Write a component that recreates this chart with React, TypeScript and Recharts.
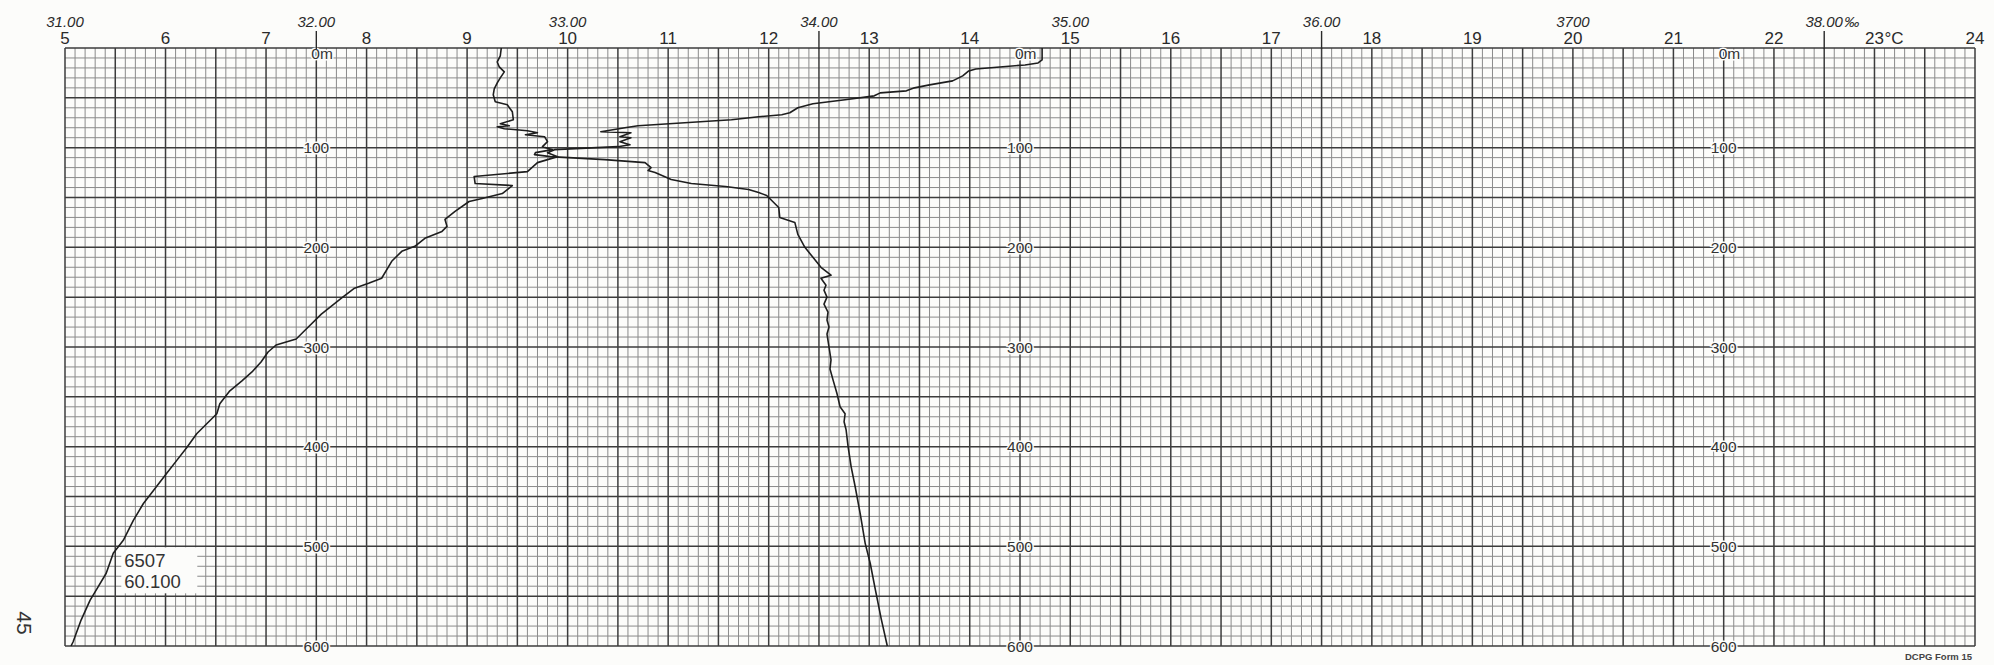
import React from "react";
import { ScatterChart, Scatter, XAxis, YAxis, ReferenceLine } from "recharts";

// ---------- data ----------
// Temperature profile (°C) vs depth (m)
const tempDepth = [
  0, 12, 15, 17, 19, 21, 23, 28, 33, 37, 40, 43, 45, 48, 52, 56, 60, 65, 67, 69, 72, 78, 80, 84, 85, 89, 90, 94, 97,
  99, 102, 105, 109, 115, 124, 129, 136, 138, 146, 151, 154, 164, 172, 179, 184, 191, 199, 204, 214, 231, 236, 241,
  251, 267, 284, 292, 298, 305, 315, 325, 334, 344, 357, 367, 374, 387, 401, 414, 427, 444, 457, 474, 494, 507, 527,
  544, 554, 574, 596, 600,
];
const tempValues = [
  14.72, 14.72, 14.68, 14.55, 14.3, 14.06, 13.99, 13.93, 13.83, 13.6, 13.45, 13.37, 13.11, 13.05, 12.76, 12.44,
  12.29, 12.21, 12.13, 11.9, 11.63, 10.7, 10.57, 10.33, 10.63, 10.52, 10.63, 10.52, 10.62, 10.5, 9.87, 9.8, 9.9,
  9.7, 9.6, 9.07, 9.08, 9.45, 9.35, 9.15, 9.02, 8.88, 8.78, 8.8, 8.75, 8.58, 8.48, 8.35, 8.25, 8.15, 8.02, 7.88,
  7.75, 7.55, 7.38, 7.3, 7.1, 7.02, 6.95, 6.86, 6.76, 6.64, 6.54, 6.51, 6.44, 6.31, 6.21, 6.11, 6.01, 5.88, 5.78,
  5.68, 5.58, 5.48, 5.41, 5.31, 5.25, 5.16, 5.08, 5.06,
];

// Salinity profile (‰) vs depth (m)
const salDepth = [
  0, 8, 14, 19, 24, 30, 35, 41, 47, 54, 57, 64, 72, 76, 78, 79, 81, 83, 85, 87, 89, 94, 99, 102, 105, 107, 109, 112,
  115, 120, 123, 125, 132, 136, 139, 142, 145, 148, 155, 160, 170, 175, 187, 200, 210, 220, 228, 231, 238, 243, 250,
  257, 265, 273, 280, 287, 300, 313, 322, 333, 347, 360, 367, 375, 383, 400, 420, 440, 467, 497, 517, 543, 573, 600,
];
const salValues = [
  32.736, 32.732, 32.72, 32.728, 32.748, 32.732, 32.72, 32.708, 32.704, 32.712, 32.76, 32.78, 32.784, 32.732, 32.768,
  32.72, 32.748, 32.84, 32.88, 32.832, 32.908, 32.92, 32.9, 32.94, 32.872, 32.868, 32.932, 33.148, 33.308, 33.332,
  33.32, 33.348, 33.412, 33.492, 33.628, 33.72, 33.76, 33.792, 33.82, 33.84, 33.844, 33.904, 33.916, 33.944, 33.976,
  34.008, 34.048, 34.008, 34.028, 34.02, 34.032, 34.02, 34.036, 34.032, 34.04, 34.032, 34.04, 34.048, 34.044, 34.056,
  34.072, 34.084, 34.104, 34.1, 34.108, 34.116, 34.128, 34.144, 34.164, 34.184, 34.204, 34.224, 34.248, 34.272,
];

// Axis ticks / labels
const tempTicks = [5, 6, 7, 8, 9, 10, 11, 12, 13, 14, 15, 16, 17, 18, 19, 20, 21, 22, 23, 24];
const tempTickSuffix: Record<number, string> = { 23: "°C" };
const salTicks = [31, 32, 33, 34, 35, 36, 37, 38];
const salTickLabels = ["31.00", "32.00", "33.00", "34.00", "35.00", "36.00", "3700", "38.00"];
const salTickSuffix = ["", "", "", "", "", "", "", "‰"];
const salTickMark = [false, true, false, true, false, true, false, true];
const depthLabelColumns = [7.5, 14.5, 21.5];
const depthLabelValues = [0, 100, 200, 300, 400, 500, 600];
const depthLabelTexts = ["0m", "100", "200", "300", "400", "500", "600"];
const stationLines = ["6507", "60.100"];
const stationAnchor = { t: 5.56, d: 501 };

// grid definitions
const tempMin = 5;
const tempMax = 24;
const depthMax = 600;
const salMin = 31;
const salMax = 31 + (tempMax - tempMin) / 2.5;

// ---------- derived tables ----------
const tempData = tempDepth.map((d, i) => ({ d, t: tempValues[i] }));
const salData = salDepth.map((d, i) => ({ d, s: salValues[i] }));
const depthLabelData = depthLabelColumns.flatMap((t) =>
  depthLabelValues.map((d, i) => ({ t, d, text: depthLabelTexts[i] }))
);
const stationData = [{ ...stationAnchor, lines: stationLines }];

const vGrid: { v: number; major: boolean }[] = [];
for (let i = 0; i <= (tempMax - tempMin) * 10; i++) {
  vGrid.push({ v: Math.round(tempMin * 10 + i) / 10, major: i % 5 === 0 });
}
const hGrid: { v: number; major: boolean }[] = [];
for (let d = 0; d <= depthMax; d += 10) {
  hGrid.push({ v: d, major: d % 50 === 0 });
}

// ---------- styles ----------
const W = 1994;
const H = 665;
const PAPER = "#fcfcfa";
const INK = "#2a2a2a";
const FONT = "'Liberation Sans', 'DejaVu Sans', Arial, sans-serif";

const TempTick = (props: any) => {
  const { x, y, payload } = props;
  const v = payload.value as number;
  const suffix = tempTickSuffix[v];
  return (
    <g>
      <text x={x} y={y} textAnchor="middle" fontSize={17} fontFamily={FONT} fill={INK}>
        {String(v)}
      </text>
      {suffix ? (
        <text x={x + 10} y={y} textAnchor="start" fontSize={17} fontFamily={FONT} fill={INK}>
          {suffix}
        </text>
      ) : null}
    </g>
  );
};

const SalTick = (props: any) => {
  const { x, y, index } = props;
  const label = salTickLabels[index];
  const suffix = salTickSuffix[index];
  return (
    <g>
      {salTickMark[index] ? <line x1={x} x2={x} y1={y + 4} y2={y + 22} stroke={INK} strokeWidth={1.4} /> : null}
      <text x={x} y={y} textAnchor="middle" fontSize={15} fontStyle="italic" fontFamily={FONT} fill={INK}>
        {label}
      </text>
      {suffix ? (
        <text x={x + 20} y={y} textAnchor="start" fontSize={15} fontStyle="italic" fontFamily={FONT} fill={INK}>
          {suffix}
        </text>
      ) : null}
    </g>
  );
};

const EmptyShape = () => <g />;

const DepthLabel = (p: any) => {
  const { cx, cy, payload } = p;
  const isZero = payload.d === 0;
  return (
    <text
      x={isZero ? cx - 5 : cx}
      y={isZero ? cy + 5 : cy}
      dy="0.36em"
      textAnchor={isZero ? "start" : "middle"}
      fontSize={15.5}
      fontFamily={FONT}
      fill="#333"
      stroke={PAPER}
      strokeWidth={3}
      paintOrder="stroke"
    >
      {payload.text}
    </text>
  );
};

const StationBox = (p: any) => {
  const { cx, cy, payload } = p;
  return (
    <g>
      <rect x={cx} y={cy} width={76} height={46} fill={PAPER} />
      {payload.lines.map((l: string, i: number) => (
        <text key={i} x={cx + 3} y={cy + 20 + i * 21} fontSize={18.5} fontFamily={FONT} fill="#333">
          {l}
        </text>
      ))}
    </g>
  );
};

export default function App() {
  return (
    <div style={{ position: "absolute", left: 0, top: 0, width: W, height: H, background: PAPER, overflow: "hidden" }}>
      <ScatterChart width={W} height={H} margin={{ top: 46, right: 19, bottom: 19, left: 65 }}>
        <XAxis
          xAxisId="t"
          dataKey="t"
          type="number"
          orientation="top"
          domain={[tempMin, tempMax]}
          ticks={tempTicks}
          interval={0}
          height={1}
          tickSize={0}
          tickMargin={3}
          axisLine={false}
          tickLine={false}
          tick={<TempTick />}
        />
        <XAxis
          xAxisId="s"
          dataKey="s"
          type="number"
          orientation="top"
          domain={[salMin, salMax]}
          ticks={salTicks}
          interval={0}
          height={1}
          tickSize={19}
          tickMargin={2}
          axisLine={false}
          tickLine={false}
          tick={<SalTick />}
        />
        <YAxis yAxisId="d" dataKey="d" type="number" domain={[0, depthMax]} reversed hide />

        {vGrid
          .filter((g) => !g.major)
          .map((g) => (
            <ReferenceLine key={"vm" + g.v} x={g.v} xAxisId="t" yAxisId="d" stroke="#8a8a8a" strokeWidth={1} ifOverflow="visible" />
          ))}
        {hGrid
          .filter((g) => !g.major)
          .map((g) => (
            <ReferenceLine key={"hm" + g.v} y={g.v} xAxisId="t" yAxisId="d" stroke="#8a8a8a" strokeWidth={1} ifOverflow="visible" />
          ))}
        {vGrid
          .filter((g) => g.major)
          .map((g) => (
            <ReferenceLine key={"vM" + g.v} x={g.v} xAxisId="t" yAxisId="d" stroke="#3c3c3c" strokeWidth={1.5} ifOverflow="visible" />
          ))}
        {hGrid
          .filter((g) => g.major)
          .map((g) => (
            <ReferenceLine key={"hM" + g.v} y={g.v} xAxisId="t" yAxisId="d" stroke="#3c3c3c" strokeWidth={1.5} ifOverflow="visible" />
          ))}

        <Scatter
          name="station"
          data={stationData}
          xAxisId="t"
          yAxisId="d"
          shape={<StationBox />}
          isAnimationActive={false}
        />
        <Scatter
          name="depth labels"
          data={depthLabelData}
          xAxisId="t"
          yAxisId="d"
          shape={<DepthLabel />}
          isAnimationActive={false}
        />
        <Scatter
          name="Salinity"
          data={salData}
          xAxisId="s"
          yAxisId="d"
          line={{ stroke: "#1e1e1e", strokeWidth: 1.6, strokeLinejoin: "round" }}
          lineType="joint"
          shape={<EmptyShape />}
          isAnimationActive={false}
        />
        <Scatter
          name="Temperature"
          data={tempData}
          xAxisId="t"
          yAxisId="d"
          line={{ stroke: "#1e1e1e", strokeWidth: 1.6, strokeLinejoin: "round" }}
          lineType="joint"
          shape={<EmptyShape />}
          isAnimationActive={false}
        />
      </ScatterChart>
      <svg width={W} height={H} style={{ position: "absolute", left: 0, top: 0, pointerEvents: "none" }}>
        <text x={10} y={630} transform="rotate(90 17 630)" textAnchor="middle" fontSize={21} fontFamily={FONT} fill="#333">
          45
        </text>
        <text x={1972} y={660} textAnchor="end" fontSize={9.5} fontWeight="bold" fontFamily={FONT} fill="#444">
          DCPG Form 15
        </text>
      </svg>
    </div>
  );
}
